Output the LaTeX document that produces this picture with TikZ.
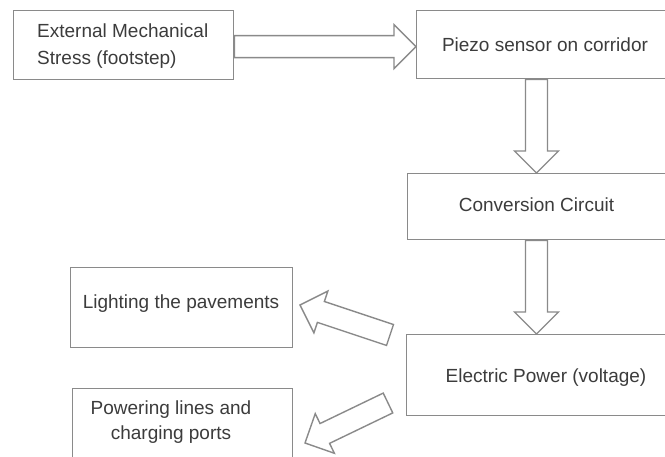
\documentclass[tikz,border=0pt]{standalone}
\usepackage{fontspec}
\setmainfont{Liberation Sans}
\usetikzlibrary{calc}
\definecolor{linec}{HTML}{8A8A8A}
\definecolor{txtc}{HTML}{3C3C3C}
\tikzset{
  box/.style={draw=linec, line width=1.4pt, fill=white, inner sep=0pt, anchor=north west},
  lbl/.style={text=txtc, inner sep=0pt, font=\fontsize{19}{27}\selectfont},
  blockarr/.style={draw=linec, line width=1.4pt, fill=white, line join=miter},
}
\newcommand\blockarrow[2]{%
  \path ($(#2)!22pt!(#1)$) coordinate (hb);
  \draw[blockarr] ($(#1)!11pt!90:(#2)$) -- ($(hb)!11pt!90:(#2)$) -- ($(hb)!22pt!90:(#2)$)
    -- (#2) -- ($(hb)!22pt!-90:(#2)$) -- ($(hb)!11pt!-90:(#2)$) -- ($(#1)!11pt!-90:(#2)$) -- cycle;
}
\begin{document}
\begin{tikzpicture}[x=1pt, y=-1pt]
\useasboundingbox (0,0) rectangle (665,457);
\clip (0,0) rectangle (665,457);
\fill[white] (0,0) rectangle (665,457);

% boxes
\node[box, minimum width=220pt, minimum height=69pt] (b1) at (13,10) {};
\node[box, minimum width=258pt, minimum height=68pt] (b2) at (416,10) {};
\node[box, minimum width=270pt, minimum height=66pt] (b3) at (407,173) {};
\node[box, minimum width=280pt, minimum height=81pt] (b4) at (406,334) {};
\node[box, minimum width=222pt, minimum height=80pt] (b5) at (70,267) {};
\node[box, minimum width=220pt, minimum height=90pt] (b6) at (72,388) {};

% texts
\node[lbl, anchor=west, align=left] (t1) at (37,46.5) {External Mechanical\\Stress (footstep)};
\node[lbl] (t2) at (545,45) {Piezo sensor on corridor};
\node[lbl] (t3) at (536.5,205) {Conversion Circuit};
\node[lbl] (t4) at (546,378) {Electric Power (voltage)};
\node[lbl] (t5) at (181,304) {Lighting the pavements};
\node[lbl, align=center, font=\fontsize{19}{25}\selectfont] (t6) at (171,422.5) {Powering lines and\\charging ports};

% connector end points
\coordinate (a1s) at ($(b1.east)+(0,1.5)$);
\coordinate (a1e) at ($(b2.west)+(0,2)$);
\coordinate (a2s) at (b2.south -| 536.5,0);
\coordinate (a2e) at (b3.north -| 536.5,0);
\coordinate (a3s) at (b3.south -| 536.5,0);
\coordinate (a3e) at (b4.north -| 536.5,0);
\coordinate (a4s) at (390,335);
\coordinate (a4e) at (300,305);
\coordinate (a5s) at (388,403);
\coordinate (a5e) at (305,443);

% block arrows
\blockarrow{a1s}{a1e}
\blockarrow{a2s}{a2e}
\blockarrow{a3s}{a3e}
\blockarrow{a4s}{a4e}
\blockarrow{a5s}{a5e}
\end{tikzpicture}
\end{document}
